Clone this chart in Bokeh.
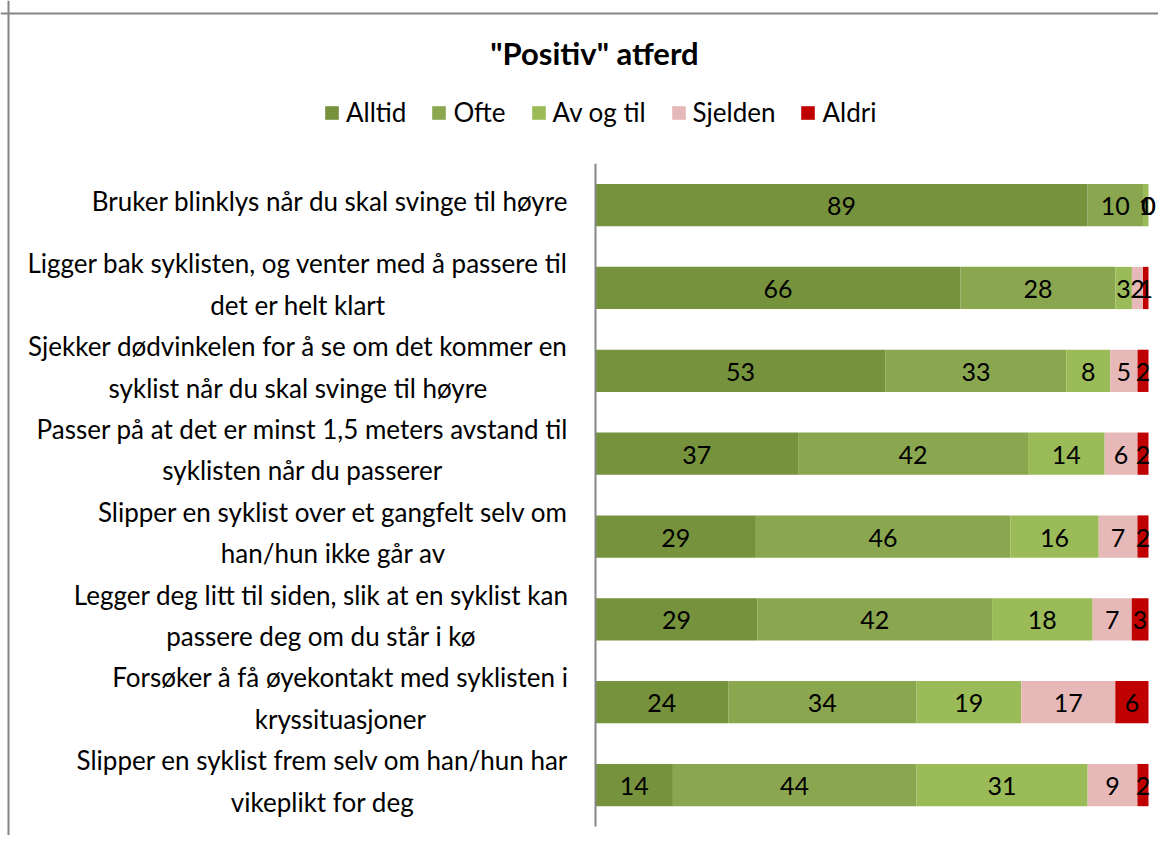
from bokeh.plotting import figure
from bokeh.models import ColumnDataSource, Label, Span
from bokeh.core.properties import value
from bokeh.embed import file_html
from bokeh.resources import INLINE

# ---------------- data ----------------
categories = [
    "Bruker blinklys når du skal svinge til høyre",
    "Ligger bak syklisten, og venter med å passere til\ndet er helt klart",
    "Sjekker dødvinkelen for å se om det kommer en\nsyklist når du skal svinge til høyre",
    "Passer på at det er minst 1,5 meters avstand til\nsyklisten når du passerer",
    "Slipper en syklist over et gangfelt selv om\nhan/hun ikke går av",
    "Legger deg litt til siden, slik at en syklist kan\npassere deg om du står i kø",
    "Forsøker å få øyekontakt med syklisten i\nkryssituasjoner",
    "Slipper en syklist frem selv om han/hun har\nvikeplikt for deg",
]
series_names = ["Alltid", "Ofte", "Av og til", "Sjelden", "Aldri"]
alltid    = [89, 66, 53, 37, 29, 29, 24, 14]
ofte      = [10, 28, 33, 42, 46, 42, 34, 44]
av_og_til = [1, 3, 8, 14, 16, 18, 19, 31]
sjelden   = [0, 2, 5, 6, 7, 7, 17, 9]
aldri     = [0, 1, 2, 2, 2, 3, 6, 2]
title_text = '"Positiv" atferd'

colors = ["#76923C", "#8AA64F", "#9BBB59", "#E6B9B8", "#C00000"]
FONT = "Lato"

# ---------------- geometry (canvas pixels) ----------------
W, H = 1158, 835
axis_px = 595.0         # canvas x of the category axis
px_per_pct = 5.53
band_px = 82.85
axis_bottom_px = 826.0  # canvas y of the bottom of the axis

x_start = -axis_px / px_per_pct
x_end = (W - axis_px) / px_per_pct
y_start = -(H - axis_bottom_px) / band_px
y_end = axis_bottom_px / band_px

def ydata(canvas_y):
    return (axis_bottom_px - canvas_y) / band_px

def xdata(canvas_x):
    return (canvas_x - axis_px) / px_per_pct

n = len(categories)
series = [alltid, ofte, av_og_til, sjelden, aldri]
keys = ["s%d" % i for i in range(len(series))]

data = {"y": [n - i - 0.5 for i in range(n)], "cat": categories}
totals = [sum(s[i] for s in series) for i in range(n)]
for k, s in zip(keys, series):
    data[k] = [100.0 * v / t for v, t in zip(s, totals)]
source = ColumnDataSource(data)

p = figure(width=W, height=H, output_backend="svg", toolbar_location=None,
           x_range=(x_start, x_end), y_range=(y_start, y_end),
           x_axis_location=None, y_axis_location=None,
           min_border_left=0, min_border_right=0, min_border_bottom=0,
           min_border_top=0)
p.grid.visible = False
p.outline_line_color = None
p.background_fill_color = "white"
p.border_fill_color = "white"

renderers = p.hbar_stack(keys, y="y", height=0.51, color=colors, line_color=None,
                         source=source, legend_label=series_names)

# data labels
lx, ly, lt = [], [], []
for i in range(n):
    cum = 0.0
    for k, s in zip(keys, series):
        v = data[k][i]
        lx.append(cum + v / 2.0)
        ly.append(data["y"][i])
        lt.append(str(s[i]))
        cum += v
p.text(x=lx, y=ly, text=lt, text_align="center", text_baseline="middle",
       y_offset=1, text_font=value(FONT), text_font_size="25px", text_color="black")

# category labels
p.text(x=0, y="y", text="cat", source=source, x_offset=-27, y_offset=-4,
       anchor=value("center_right"), text_align="center", text_baseline="middle",
       text_line_height=1.3, text_font=value(FONT), text_font_size="26px",
       text_color="black")

# category axis line
p.line(x=[0, 0], y=[0, n], line_color="#868686", line_width=2)

# chart border (top and left visible)
p.add_layout(Span(location=xdata(8), dimension="height", line_color="#868686", line_width=2))
p.add_layout(Span(location=ydata(13), dimension="width", line_color="#868686", line_width=2))

# title
p.add_layout(Label(x=xdata(594), y=ydata(52), text=title_text, text_align="center",
                   text_baseline="middle", text_font=FONT, text_font_size="31px",
                   text_font_style="bold", text_color="black"))

# legend
lg = p.legend[0]
lg.orientation = "horizontal"
lg.location = (323, H - 128)
lg.padding = 0
lg.margin = 0
lg.border_line_color = None
lg.background_fill_alpha = 0
lg.glyph_width = 17
lg.glyph_height = 17
lg.label_standoff = 6
lg.spacing = 24
lg.label_text_font = FONT
lg.label_text_font_size = "26px"
lg.label_text_color = "black"

open("out.html", "w").write(file_html(p, INLINE))
